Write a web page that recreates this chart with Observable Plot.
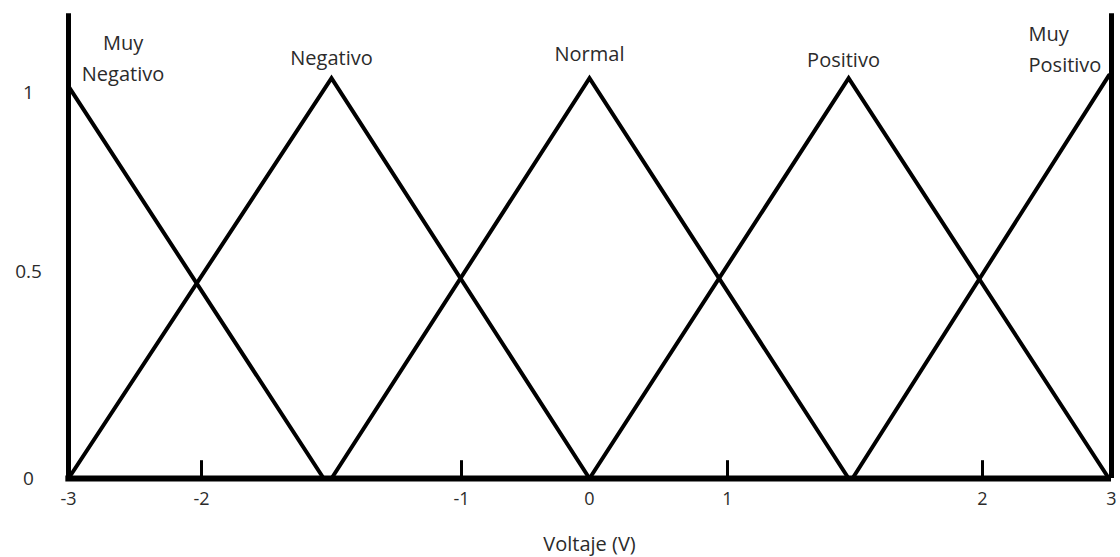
<!DOCTYPE html>
<html>
<head>
<meta charset="utf-8">
<script src="https://cdn.jsdelivr.net/npm/d3@7"></script>
<script src="https://cdn.jsdelivr.net/npm/@observablehq/plot@0.6"></script>
<style>
  html, body { margin: 0; padding: 0; background: #fff; }
  #chart svg { display: block; }
</style>
</head>
<body>
<div id="chart"></div>
<script>
// Tick values
const xTicks = [-3, -2, -1, 0, 1, 2, 3];
const xTickMarks = [-2, -1, 1, 2];
const yTicks = [0, 0.5, 1];
const yTickLabels = ["0", "0.5", "1"];

// Membership function vertices [voltage, membership]
const muyNegativo = [[-3, 1.017], [-1.53, 0]];
const negativo = [[-3, 0], [-1.5, 1.04], [0, 0]];
const normal = [[-1.5, 0], [0, 1.04], [1.475, 0]];
const positivo = [[0, 0], [1.475, 1.04], [2.98, 0]];
const muyPositivo = [[1.49, 0], [2.98, 1.048]];

const seriesNames = ["Muy Negativo", "Negativo", "Normal", "Positivo", "Muy Positivo"];
const seriesPoints = [muyNegativo, negativo, normal, positivo, muyPositivo];

// Labels
const labelText = ["Muy\nNegativo", "Negativo", "Normal", "Positivo", "Muy\nPositivo"];
const labelX = [-2.59, -1.5, 0, 1.455, 2.357];
const labelY = [1.103, 1.104, 1.115, 1.10, 1.127];
const labelAnchor = ["middle", "middle", "middle", "middle", "start"];

const xLabel = "Voltaje (V)";
const frameTop = 1.22;

const lineData = seriesNames.flatMap((name, i) =>
  seriesPoints[i].map(([x, y]) => ({series: name, x, y})));
const labels = labelText.map((t, i) => ({t, x: labelX[i], y: labelY[i], a: labelAnchor[i]}));

const textColor = "#2b2b2b";
const font = "'Open Sans', sans-serif";

const marks = [
  // frame verticals
  Plot.ruleX([-3, 3], {y1: 0, y2: frameTop, stroke: "#000", strokeWidth: 5}),
  // baseline
  Plot.ruleY([0], {x1: -3.02, x2: 3, stroke: "#000", strokeWidth: 6}),
  // tick marks
  Plot.ruleX(xTickMarks, {y1: 0, y2: 0.043, stroke: "#000", strokeWidth: 3}),
  // membership functions
  Plot.line(lineData, {x: "x", y: "y", z: "series", stroke: "#000", strokeWidth: 4, strokeLinejoin: "miter", strokeMiterlimit: 10}),
  // x tick labels
  Plot.text(xTicks, {x: d => d, y: 0, dy: 21, text: d => String(d), fill: textColor, fontSize: 18, fontFamily: font}),
  // y tick labels
  Plot.text(yTicks, {x: -3, y: d => d, dx: -40, text: (d, i) => yTickLabels[i], fill: textColor, fontSize: 19, fontFamily: font}),
  // x axis title
  Plot.text([xLabel], {x: 0, y: 0, dy: 66, text: d => d, fill: textColor, fontSize: 20, fontFamily: font}),
  // series labels
  Plot.text(labels.filter(d => d.a === "middle"), {x: "x", y: "y", text: "t", textAnchor: "middle", lineHeight: 1.55, fill: textColor, fontSize: 20, fontFamily: font}),
  Plot.text(labels.filter(d => d.a === "start"), {x: "x", y: "y", text: "t", textAnchor: "start", lineHeight: 1.55, fill: textColor, fontSize: 20, fontFamily: font})
];

const chart = Plot.plot({
  width: 1120,
  height: 557,
  margin: 0,
  style: {background: "#fff", overflow: "visible"},
  x: {type: "linear", domain: [-3, -2, -1, 0, 1, 2, 3], range: [68, 201, 461, 589, 727, 982, 1111], axis: null, clamp: false},
  y: {type: "linear", domain: [0, 0.5, 1], range: [478, 271, 92], axis: null},
  marks
});
document.getElementById("chart").appendChild(chart);
</script>
</body>
</html>
